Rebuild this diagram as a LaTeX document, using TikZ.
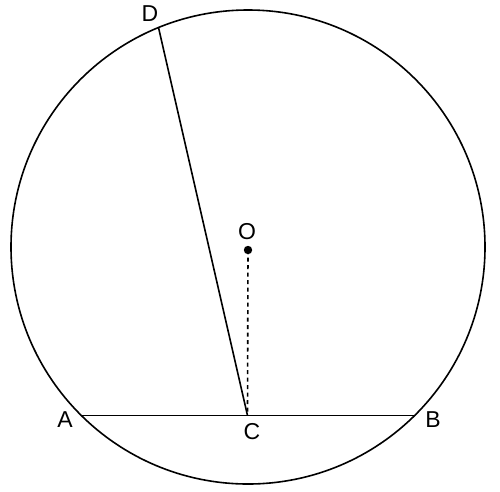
\documentclass[tikz,border=0pt]{standalone}
\usepackage{fontspec}
\setmainfont{Liberation Sans}

\begin{document}
\begin{tikzpicture}[
  x=1pt, y=-1pt,
  line width=1.6pt,
  lbl/.style={font=\fontsize{23}{26}\selectfont, inner sep=0pt},
  hidden/.style={dash pattern=on 4pt off 3.5pt},
]

\useasboundingbox (0,0) rectangle (500,491);

\coordinate (O) at (248,247);
\draw (O) circle [radius=237];

\coordinate (A) at (81.3,415.5);
\coordinate (B) at (414.7,415.5);
\coordinate (C) at (247.5,415.5);
\coordinate (D) at (158.5,27.5);

\draw (A) -- (B);
\draw (D) -- (C);
\draw [hidden] (248,250) -- (C);
\fill (248,250) circle [radius=4.2];

\node [lbl] (lD) at (150,14) {D};
\node [lbl] (lO) at (247,232) {O};
\node [lbl] (lA) at (65,420) {A};
\node [lbl] (lC) at (252,432) {C};
\node [lbl] (lB) at (433,420) {B};

\end{tikzpicture}
\end{document}
